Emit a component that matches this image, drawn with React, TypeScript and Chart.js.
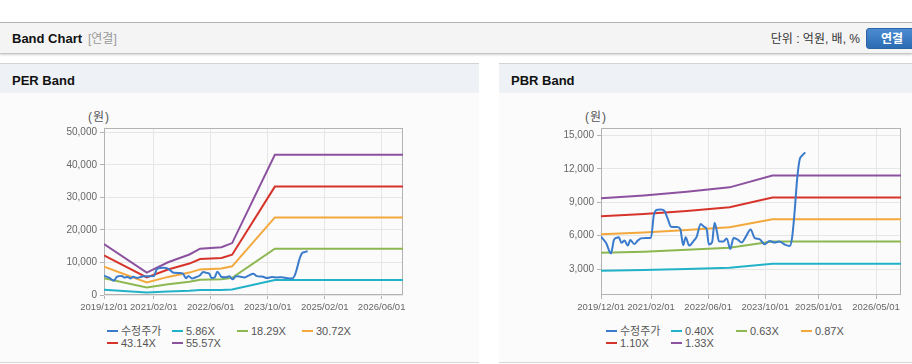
import React, { useEffect, useRef } from "react";
import { Chart, registerables } from "chart.js";
Chart.register(...registerables);

// ---------- data ----------
const priceDates = [
  "2019/12/01", "2020/01/13", "2020/02/25", "2020/03/19", "2020/04/10", "2020/05/01", "2020/05/22",
  "2020/06/19", "2020/07/16", "2020/08/07", "2020/09/10", "2020/10/10", "2020/11/07", "2020/12/16",
  "2021/02/01", "2021/02/25", "2021/03/25", "2021/04/25", "2021/05/25", "2021/06/22", "2021/07/19",
  "2021/09/10", "2021/10/07", "2021/11/01", "2021/11/22", "2021/12/22", "2022/02/01", "2022/02/25",
  "2022/03/28", "2022/04/25", "2022/05/19", "2022/06/07", "2022/07/04", "2022/07/25", "2022/08/16",
  "2022/09/01", "2022/10/10", "2022/11/07", "2022/12/07", "2023/01/04", "2023/02/10", "2023/03/13",
  "2023/04/19", "2023/05/28", "2023/07/01", "2023/08/13", "2023/09/25", "2023/11/07", "2023/12/19",
  "2024/01/28", "2024/03/13", "2024/04/25", "2024/05/16", "2024/06/07", "2024/06/28", "2024/07/19",
  "2024/08/10", "2024/09/07",
];
const priceValues = [
  5900, 5350, 4400, 5600, 5800, 5850, 5350,
  5550, 5100, 5600, 5250, 5550, 5750, 5780,
  5800, 7850, 8330, 8350, 8200, 7500, 6800,
  6770, 6600, 5150, 5850, 5100, 5550, 5900,
  7050, 6800, 6550, 5200, 5400, 7150, 6300,
  5500, 5480, 5750, 4800, 5780, 5630, 5390,
  5930, 6550, 5800, 5680, 5220, 5520, 5380,
  5480, 5200, 5060, 5800, 8100, 11000, 12800,
  13180, 13480,
];

const perBandDates = ["2019/12/01", "2020/12/01", "2021/06/01", "2021/12/01", "2022/03/01", "2022/09/01", "2022/12/01", "2023/12/01", "2026/12/01"];
const per586 = [1650, 760, 1080, 1310, 1500, 1550, 1680, 4600, 4600];
const per1829 = [5160, 2300, 3310, 4100, 4680, 4830, 5250, 14200, 14200];
const per3072 = [8660, 3830, 5560, 6880, 7860, 8110, 8820, 23830, 23830];
const per4314 = [12170, 5400, 7810, 9660, 11040, 11390, 12380, 33300, 33300];
const per5557 = [15670, 6850, 10060, 12450, 14230, 14670, 15950, 43080, 43080];

const pbrBandDates = ["2019/12/01", "2020/12/01", "2021/12/01", "2022/12/01", "2023/12/01", "2026/12/01"];
const pbr040 = [2850, 2900, 3000, 3110, 3480, 3480];
const pbr063 = [4450, 4560, 4720, 4900, 5460, 5460];
const pbr087 = [6115, 6280, 6500, 6760, 7470, 7470];
const pbr110 = [7730, 7940, 8220, 8550, 9430, 9430];
const pbr133 = [9350, 9600, 9935, 10335, 11405, 11405];

const perLabels = ["수정주가", "5.86X", "18.29X", "30.72X", "43.14X", "55.57X"];
const pbrLabels = ["수정주가", "0.40X", "0.63X", "0.87X", "1.10X", "1.33X"];

const perXTickDates = ["2019/12/01", "2021/02/01", "2022/06/01", "2023/10/01", "2025/02/01", "2026/06/01"];
const pbrXTickDates = ["2019/12/01", "2021/02/01", "2022/06/01", "2023/10/01", "2025/01/01", "2026/05/01"];
const perYTicks = [0, 10000, 20000, 30000, 40000, 50000];
const pbrYTicks = [3000, 6000, 9000, 12000, 15000];
const xStart = "2019/12/01";
const xEnd = "2026/12/01";

// ---------- styles ----------
const COLORS = ["#3b7bcb", "#22b2c8", "#8cb751", "#f3a83b", "#d6342b", "#8c529f"];
const FONT = '"Liberation Sans", "Noto Sans CJK KR", Arial, sans-serif';

function toMonths(d: string) {
  const [y, m, day] = d.split("/").map(Number);
  return (y - 2019) * 12 + (m - 12) + (day - 1) / 30;
}

function series(dates: string[], values: number[]) {
  return dates.map((d, i) => ({ x: toMonths(d), y: values[i] }));
}

const framePlugin = {
  id: "frame",
  beforeDatasetsDraw(chart: any) {
    const { ctx, chartArea: a } = chart;
    ctx.save();
    ctx.strokeStyle = "#b3b3b3";
    ctx.lineWidth = 1;
    ctx.strokeRect(Math.round(a.left) + 0.5, Math.round(a.top) + 0.5, Math.round(a.right - a.left) - 1, Math.round(a.bottom - a.top) - 1);
    ctx.restore();
  },
};

type BandProps = {
  labels: string[];
  bandDates: string[];
  bands: number[][];
  yMin: number;
  yMax: number;
  yTicks: number[];
  xTickDates: string[];
  width: number;
  height: number;
  padding: { left: number; right: number; top: number; bottom: number };
};

function BandCanvas(p: BandProps) {
  const ref = useRef<HTMLCanvasElement>(null);
  useEffect(() => {
    const xTicks = p.xTickDates.map(toMonths);
    const datasets: any[] = [
      {
        label: p.labels[0],
        data: series(priceDates, priceValues),
        borderColor: COLORS[0],
        borderWidth: 2,
        cubicInterpolationMode: "monotone",
        pointRadius: 0,
      },
      ...p.bands.map((b, i) => ({
        label: p.labels[i + 1],
        data: series(p.bandDates, b),
        borderColor: COLORS[i + 1],
        borderWidth: 2,
        pointRadius: 0,
        tension: 0,
      })),
    ];
    const chart = new Chart(ref.current as HTMLCanvasElement, {
      type: "line",
      data: { datasets },
      options: {
        responsive: false,
        animation: false,
        devicePixelRatio: 1,
        layout: { padding: p.padding },
        plugins: { legend: { display: false }, tooltip: { enabled: false } },
        scales: {
          x: {
            type: "linear",
            min: toMonths(xStart),
            max: toMonths(xEnd),
            afterBuildTicks: (s: any) => {
              s.ticks = xTicks.map((v) => ({ value: v }));
            },
            afterFit: (s: any) => {
              s.height = 15;
            },
            ticks: {
              autoSkip: false,
              maxRotation: 0,
              padding: 3,
              color: "#666",
              font: { family: FONT, size: 9.5 },
              callback: (_v: any, i: number) => p.xTickDates[i],
            },
            grid: { color: "#e6e6e6", tickColor: "#b3b3b3", tickLength: 4 },
            border: { display: false },
          },
          y: {
            type: "linear",
            min: p.yMin,
            max: p.yMax,
            afterBuildTicks: (s: any) => {
              s.ticks = p.yTicks.map((v) => ({ value: v }));
            },
            afterFit: (s: any) => {
              s.width = 50;
            },
            ticks: {
              padding: 3,
              color: "#666",
              font: { family: FONT, size: 10 },
              callback: (v: any) => Number(v).toLocaleString("en-US"),
            },
            grid: { color: "#e6e6e6", tickColor: "#b3b3b3", tickLength: 4 },
            border: { display: false },
          },
        },
      } as any,
      plugins: [framePlugin],
    });
    return () => chart.destroy();
  }, []);
  return <canvas ref={ref} width={p.width} height={p.height} style={{ width: p.width, height: p.height, display: "block" }} />;
}

function Legend({ labels, textLeft, rowCenters }: { labels: string[]; textLeft: number; rowCenters: number[] }) {
  return (
    <>
      {labels.map((l, i) => {
        const row = Math.floor(i / 4);
        const col = i % 4;
        return (
          <div
            key={l}
            style={{
              position: "absolute",
              left: textLeft + col * 65 - 14,
              top: rowCenters[row] - 7,
              height: 14,
              display: "flex",
              alignItems: "center",
              whiteSpace: "nowrap",
            }}
          >
            <span style={{ width: 11, height: 2, background: COLORS[i], marginRight: 3, display: "inline-block" }} />
            <span style={{ font: `11px ${FONT}`, color: "#555", lineHeight: "14px" }}>{l}</span>
          </div>
        );
      })}
    </>
  );
}

function Panel({ left, width, title }: { left: number; width: number; title: string }) {
  return (
    <>
      <div style={{ position: "absolute", left, top: 63, width, height: 29, background: "#eef1f6", borderTop: "1px solid #d3d3d3" }} />
      <div style={{ position: "absolute", left, top: 93, width, height: 269, background: "#fbfbfc", borderBottom: "1px solid #d6d6d6" }} />
      <div style={{ position: "absolute", left: left + 12, top: 72, font: `bold 13px ${FONT}`, color: "#111", lineHeight: "17px" }}>{title}</div>
    </>
  );
}

export default function App() {
  return (
    <div style={{ position: "absolute", left: 0, top: 0, width: 912, height: 364, background: "#fff", overflow: "hidden", fontFamily: FONT }}>
      {/* top header */}
      <div style={{ position: "absolute", left: 0, top: 22, width: 912, height: 30, background: "#f4f4f4", borderTop: "1px solid #b4b4b4", borderBottom: "1px solid #c6c6c6", boxShadow: "0 1px 2px rgba(0,0,0,0.18)" }} />
      <div style={{ position: "absolute", left: 12, top: 30, font: `bold 13px ${FONT}`, color: "#111", lineHeight: "17px" }}>Band Chart</div>
      <div style={{ position: "absolute", left: 88, top: 31, font: `12px ${FONT}`, color: "#999", lineHeight: "16px" }}>[연결]</div>
      <div style={{ position: "absolute", right: 52, top: 31, font: `12px ${FONT}`, color: "#333", lineHeight: "16px", whiteSpace: "nowrap" }}>
        단위 : 억원, 배, %
      </div>
      <div style={{ position: "absolute", left: 866, top: 28, width: 52, height: 21, borderRadius: 3, background: "linear-gradient(#4a8bd2, #2c6cb3)", border: "1px solid #2a63a6", boxSizing: "border-box" }}>
        <span style={{ position: "absolute", left: 14, top: 2, font: `bold 12px ${FONT}`, color: "#fff", lineHeight: "16px" }}>연결</span>
      </div>

      <Panel left={0} width={479} title="PER Band" />
      <Panel left={499} width={413} title="PBR Band" />

      <div style={{ position: "absolute", left: 88, top: 110, font: `12px ${FONT}`, color: "#555", lineHeight: "14px", letterSpacing: 1 }}>(원)</div>
      <div style={{ position: "absolute", left: 585, top: 110, font: `12px ${FONT}`, color: "#555", lineHeight: "14px", letterSpacing: 1 }}>(원)</div>

      <div style={{ position: "absolute", left: 0, top: 110 }}>
        <BandCanvas
          labels={perLabels}
          bandDates={perBandDates}
          bands={[per586, per1829, per3072, per4314, per5557]}
          yMin={0}
          yMax={51300}
          yTicks={perYTicks}
          xTickDates={perXTickDates}
          width={430}
          height={210}
          padding={{ left: 54, right: 27, top: 18, bottom: 10 }}
        />
      </div>
      <div style={{ position: "absolute", left: 500, top: 110 }}>
        <BandCanvas
          labels={pbrLabels}
          bandDates={pbrBandDates}
          bands={[pbr040, pbr063, pbr087, pbr110, pbr133]}
          yMin={665}
          yMax={15665}
          yTicks={pbrYTicks}
          xTickDates={pbrXTickDates}
          width={412}
          height={210}
          padding={{ left: 51, right: 11, top: 18, bottom: 10 }}
        />
      </div>

      <Legend labels={perLabels} textLeft={121} rowCenters={[331, 343]} />
      <Legend labels={pbrLabels} textLeft={620} rowCenters={[331, 343]} />
    </div>
  );
}
